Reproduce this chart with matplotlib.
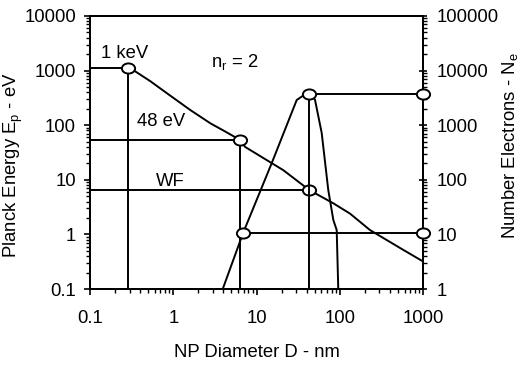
import matplotlib
matplotlib.use("Agg")
import matplotlib.pyplot as plt
from matplotlib.path import Path
from matplotlib.transforms import Affine2D
from matplotlib.ticker import FixedLocator, LogLocator, NullFormatter

plt.rcParams["font.family"] = ["Liberation Sans", "DejaVu Sans"]
plt.rcParams["mathtext.fontset"] = "custom"
plt.rcParams["mathtext.rm"] = "Liberation Sans"
plt.rcParams["mathtext.it"] = "Liberation Sans"

# Planck energy vs NP diameter (left axis, eV)
d_energy = [0.3, 0.33, 0.53, 0.87, 1.6, 2.8, 4.0, 6.3, 7.3, 21, 43, 84, 133, 231, 366, 580, 1000]
e_planck = [1100, 1025, 640, 370, 190, 108, 80, 54, 40, 15, 6.5, 3.7, 2.4, 1.2, 0.79, 0.52, 0.32]

# number of electrons vs NP diameter (right axis)
d_ne = [3.93, 6.9, 15.2, 30.4, 36, 43, 47, 50.5, 60.7, 72.8, 83.7, 91.9, 96]
n_e = [1, 10.6, 200, 2890, 3450, 3700, 3450, 2890, 720, 65, 18.4, 12, 1]

# marked points
d_mark_e = [0.29, 6.3, 43]
e_mark = [1100, 54, 6.5]
d_mark_n = [6.9, 43]
n_mark = [10.6, 3700]

x_ticks = [0.1, 1, 10, 100, 1000]
x_labels = ["0.1", "1", "10", "100", "1000"]
yl_ticks = [0.1, 1, 10, 100, 1000, 10000]
yl_labels = ["0.1", "1", "10", "100", "1000", "10000"]
yr_ticks = [1, 10, 100, 1000, 10000, 100000]
yr_labels = ["1", "10", "100", "1000", "10000", "100000"]

FS = 13.3
LW = 1.4
ellipse = Path.unit_circle().transformed(Affine2D().scale(1.3, 1.0))
mk = dict(marker=ellipse, ms=9.5, mfc="white", mec="black", mew=LW, ls="none",
          zorder=5, clip_on=False)

fig = plt.figure(figsize=(5.22, 3.74), dpi=100)
ax = fig.add_axes([90 / 522, 1 - 289 / 374, 333 / 522, 273 / 374])
ax2 = ax.twinx()

ax.set_xscale("log")
ax.set_yscale("log")
ax2.set_yscale("log")
ax.set_xlim(0.1, 1000)
ax.set_ylim(0.1, 10000)
ax2.set_ylim(1, 100000)

# energy curve and its guide lines
ax.plot(d_energy, e_planck, color="black", lw=LW)
for d, e in zip(d_mark_e, e_mark):
    ax.plot([0.1, d], [e, e], color="black", lw=LW)
for d, e in zip(d_mark_e[:2], e_mark[:2]):
    ax.plot([d, d], [e, 0.1], color="black", lw=LW)
ax.plot(d_mark_e, e_mark, **mk)

# electron curve and its guide lines
ax2.plot(d_ne, n_e, color="black", lw=LW)
for d, n in zip(d_mark_n, n_mark):
    ax2.plot([d, 1000], [n, n], color="black", lw=LW)
ax2.plot([d_mark_n[1], d_mark_n[1]], [n_mark[1], 1], color="black", lw=LW)
ax2.plot(d_mark_n + [1000, 1000], n_mark + n_mark, **mk)

ax.text(0.263, 2016, "1 keV", fontsize=FS, ha="center", va="center")
ax.text(0.72, 117, "48 eV", fontsize=FS, ha="center", va="center")
ax.text(0.91, 9.5, "WF", fontsize=FS, ha="center", va="center")
ax.text(5.5, 1436, r"n$_{\mathrm{r}}$ = 2", fontsize=FS, ha="center", va="center")

for a in (ax, ax2):
    for s in a.spines.values():
        s.set_linewidth(LW)

ax.xaxis.set_major_locator(FixedLocator(x_ticks))
ax.set_xticklabels(x_labels)
ax.xaxis.set_minor_locator(LogLocator(base=10, subs=range(2, 10)))
ax.xaxis.set_minor_formatter(NullFormatter())
ax.yaxis.set_major_locator(FixedLocator(yl_ticks))
ax.set_yticklabels(yl_labels)
ax.yaxis.set_minor_locator(LogLocator(base=10, subs=range(2, 10)))
ax.yaxis.set_minor_formatter(NullFormatter())
ax2.yaxis.set_major_locator(FixedLocator(yr_ticks))
ax2.set_yticklabels(yr_labels)
ax2.yaxis.set_minor_locator(LogLocator(base=10, subs=range(2, 10)))
ax2.yaxis.set_minor_formatter(NullFormatter())

ax.tick_params(axis="x", which="major", direction="out", length=4, width=1.2,
               labelsize=FS, pad=11)
ax.tick_params(axis="x", which="minor", direction="out", length=3, width=1)
ax.tick_params(axis="y", which="major", direction="out", length=4, width=1.2,
               labelsize=FS, pad=6)
ax.tick_params(axis="y", which="minor", direction="out", length=3, width=1)
ax2.tick_params(axis="y", which="major", direction="inout", length=6, width=1.2,
                labelsize=FS, pad=7)
ax2.tick_params(axis="y", which="minor", direction="out", length=3, width=1)

ax.set_xlabel("NP Diameter D - nm", fontsize=FS)
ax.xaxis.set_label_coords(0.5, -0.2)
ax.set_ylabel(r"Planck Energy E$_{\mathrm{p}}$ - eV", fontsize=FS)
ax.yaxis.set_label_coords(-0.195, 0.454)
ax2.set_ylabel(r"Number Electrons - N$_{\mathrm{e}}$", fontsize=FS)
ax2.yaxis.set_label_coords(1.231, 0.524)

fig.savefig("out.png", dpi=100)
